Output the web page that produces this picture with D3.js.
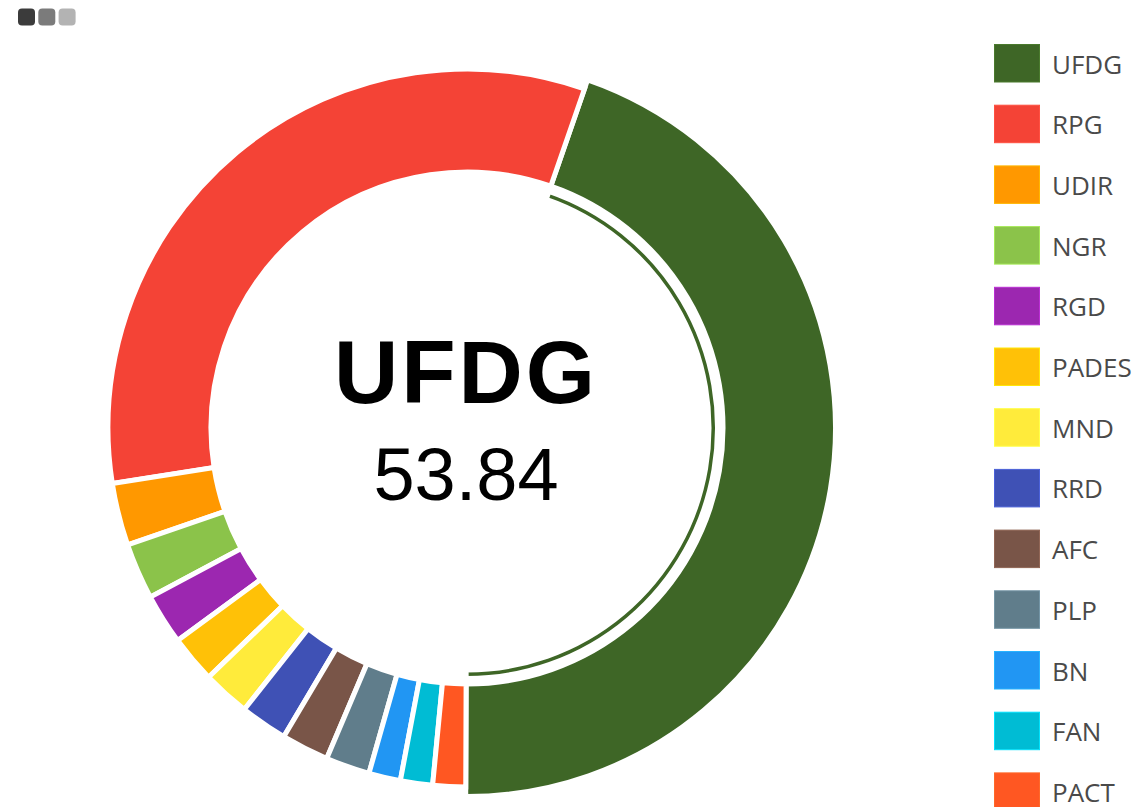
<!DOCTYPE html>
<html>
<head>
<meta charset="utf-8">
<script src="https://cdn.jsdelivr.net/npm/d3@7"></script>
<style>
  html, body { margin: 0; padding: 0; background: #fff; }
  svg { display: block; }
</style>
</head>
<body>
<div id="chart"></div>
<script>
// party results
const parties = ['UFDG', 'RPG', 'UDIR', 'NGR', 'RGD', 'PADES', 'MND', 'RRD', 'AFC', 'PLP', 'BN', 'FAN', 'PACT'];
const values = [53.84, 39.44, 3.38, 3.04, 2.74, 2.56, 2.57, 2.56, 2.57, 2.39, 1.72, 1.74, 1.77];
const colors = ['#3e6626', '#f44336', '#ff9800', '#8bc34a', '#9c27b0', '#ffc107', '#ffeb3b',
                '#3f51b5', '#795548', '#607d8b', '#2196f3', '#00bcd4', '#ff5722'];
const selected = 0;
const iconShades = ['#3b3b3b', '#7b7b7b', '#b3b3b3'];

const width = 1147;
const height = 807;
const cx = 467, cy = 428;
const innerR = 256, outerR = 359, hoverR = 368.5;
const start = Math.PI * 180.2 / 180;

const svg = d3.select('#chart').append('svg')
    .attr('width', width)
    .attr('height', height);

// little toolbar icon top-left
svg.append('g').selectAll('rect')
    .data(iconShades)
    .enter()
    .append('rect')
    .attr('x', (d, i) => 18 + i * 20.3)
    .attr('y', 8.5)
    .attr('width', 17)
    .attr('height', 17)
    .attr('rx', 4)
    .attr('fill', d => d);

const pie = d3.pie()
    .sort(null)
    .value(d => d)
    .startAngle(start)
    .endAngle(start - 2 * Math.PI);

const arcs = pie(values);

const arc = d3.arc().innerRadius(innerR).outerRadius(outerR);
const arcBig = d3.arc().innerRadius(innerR).outerRadius(hoverR);
const ring = d3.arc().innerRadius(242).outerRadius(250.5);

const g = svg.append('g').attr('transform', `translate(${cx},${cy})`);

g.selectAll('path.slice')
    .data(arcs)
    .enter()
    .append('path')
    .attr('class', 'slice')
    .attr('d', (d, i) => i === selected ? arcBig(d) : arc(d))
    .attr('fill', (d, i) => colors[i])
    .attr('stroke', '#fff')
    .attr('stroke-width', 5)
    .attr('stroke-linejoin', 'miter');

// thin inner ring under the highlighted slice
g.append('path')
    .attr('d', ring(arcs[selected]))
    .attr('fill', colors[selected])
    .attr('stroke', '#fff')
    .attr('stroke-width', 5);

// center label
g.append('text')
    .attr('x', -1)
    .attr('y', -25.5)
    .attr('text-anchor', 'middle')
    .style('font-family', 'Arial, "Liberation Sans", sans-serif')
    .style('font-weight', 'bold')
    .style('font-size', '89px')
    .style('letter-spacing', '3px')
    .attr('fill', '#000')
    .text(parties[selected]);

g.append('text')
    .attr('x', -1)
    .attr('y', 72)
    .attr('text-anchor', 'middle')
    .style('font-family', 'Arial, "Liberation Sans", sans-serif')
    .style('font-size', '74px')
    .attr('fill', '#000')
    .text(values[selected].toFixed(2));

// legend
const legend = svg.append('g')
    .selectAll('g')
    .data(parties)
    .enter()
    .append('g')
    .attr('transform', (d, i) => `translate(994,${44 + i * 60.7})`);

legend.append('rect')
    .attr('x', 0.5)
    .attr('y', 0.5)
    .attr('width', 45)
    .attr('height', 37.5)
    .attr('fill', (d, i) => colors[i])
    .attr('stroke', (d, i) => d3.color(colors[i]).brighter(0.5))
    .attr('stroke-width', 1);

legend.append('text')
    .attr('x', 58)
    .attr('y', 29.5)
    .style('font-family', '"Open Sans", sans-serif')
    .style('font-size', '26px')
    .attr('fill', '#4a4a4a')
    .text(d => d);
</script>
</body>
</html>
